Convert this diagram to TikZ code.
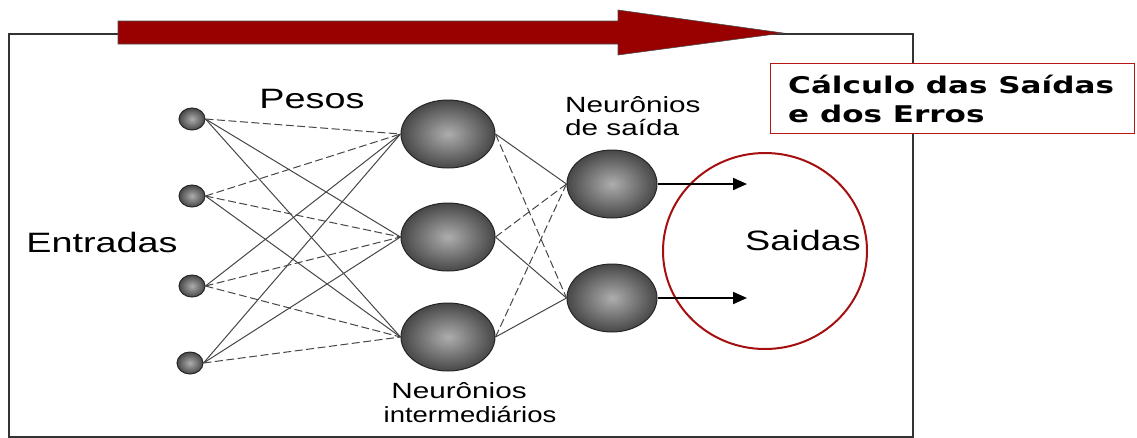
\documentclass[tikz,border=0pt]{standalone}
\usepackage{fontspec}
\setmainfont{Liberation Sans}
\newfontfamily\boxfont{DejaVu Sans}
\usetikzlibrary{shapes.geometric,arrows.meta}
\definecolor{arrowred}{RGB}{153,0,0}
\definecolor{boxred}{RGB}{185,20,20}
\definecolor{ellred}{RGB}{165,15,15}
\definecolor{wire}{RGB}{70,70,70}
\newcommand\wx[1]{\scalebox{1.35}[1]{#1}}
\tikzset{
  neuron/.style={ellipse, draw=black!85, line width=1pt, inner sep=0pt,
    inner color=black!32, outer color=black!72},
  inp/.style={neuron, minimum width=26pt, minimum height=22pt},
  hid/.style={neuron, minimum width=94pt, minimum height=68pt},
  outn/.style={neuron, minimum width=90pt, minimum height=68pt},
  wiresolid/.style={draw=wire, line width=1pt},
  wiredash/.style={draw=wire, line width=1pt, dash pattern=on 8pt off 3.5pt},
  biglbl/.style={anchor=base, inner sep=0pt, font=\fontsize{28}{32}\selectfont},
  smalllbl/.style={anchor=base, inner sep=0pt, font=\fontsize{22}{26}\selectfont},
  boxlbl/.style={anchor=base west, inner sep=0pt, font=\boxfont\bfseries\fontsize{23}{27}\selectfont},
  outarrow/.style={draw=black, line width=2pt, -{Triangle[length=14pt,width=12pt]}},
}
\begin{document}
\begin{tikzpicture}[x=1pt,y=-1pt]
\useasboundingbox (0,0) rectangle (1137,437);
% frame
\draw[black!80, line width=1.8pt] (9,34) rectangle (913,437);
% big red arrow
\draw[fill=arrowred, draw=black!70, line width=0.6pt]
  (118,21) -- (618,21) -- (618,10) -- (783,33) -- (618,55) -- (618,44) -- (118,44) -- cycle;
% box
\node[draw=boxred, fill=white, line width=1.2pt, minimum width=364pt, minimum height=70pt,
      anchor=north west, inner sep=0pt] (calcbox) at (770,63) {};
\node[boxlbl] (calc1) at (788,93) {\wx{Cálculo das Saídas}};
\node[boxlbl] (calc2) at (788,122) {\wx{e dos Erros}};
% neurons
\node[inp] (i1) at (192,119) {};
\node[inp] (i2) at (192,196) {};
\node[inp] (i3) at (192,286) {};
\node[inp] (i4) at (190,363) {};
\node[hid] (h1) at (448,134) {};
\node[hid] (h2) at (448,237) {};
\node[hid] (h3) at (448,337) {};
\node[outn] (o1) at (612,184) {};
\node[outn] (o2) at (612,298) {};
% input -> hidden
\draw[wiredash]  (i1.east) -- (h1.west);
\draw[wiresolid] (i1.east) -- (h2.west);
\draw[wiresolid] (i1.east) -- (h3.west);
\draw[wiredash]  (i2.east) -- (h1.west);
\draw[wiredash]  (i2.east) -- (h2.west);
\draw[wiresolid] (i2.east) -- (h3.west);
\draw[wiresolid] (i3.east) -- (h1.west);
\draw[wiredash]  (i3.east) -- (h2.west);
\draw[wiredash]  (i3.east) -- (h3.west);
\draw[wiresolid] (i4.east) -- (h1.west);
\draw[wiresolid] (i4.east) -- (h2.west);
\draw[wiredash]  (i4.east) -- (h3.west);
% hidden -> output
\draw[wiresolid] (h1.east) -- (o1.west);
\draw[wiredash]  (h1.east) -- (o2.west);
\draw[wiredash]  (h2.east) -- (o1.west);
\draw[wiresolid] (h2.east) -- (o2.west);
\draw[wiredash]  (h3.east) -- (o1.west);
\draw[wiresolid] (h3.east) -- (o2.west);
% outputs ring
\node[ellipse, draw=ellred, line width=2pt, minimum width=204pt, minimum height=196pt,
      inner sep=0pt] (ring) at (765,251) {};
\coordinate (a1) at (747,184);
\coordinate (a2) at (747,298);
\draw[outarrow] (o1.east) -- (a1);
\draw[outarrow] (o2.east) -- (a2);
% labels
\node[biglbl] (entradas) at (102,252) {\wx{Entradas}};
\node[biglbl] (pesos) at (312,108) {\wx{Pesos}};
\node[smalllbl, anchor=base west] (ns1) at (565,112) {\wx{Neurônios}};
\node[smalllbl, anchor=base west] (ns2) at (565,135) {\wx{de saída}};
\node[smalllbl] (ni1) at (459,398) {\wx{Neurônios}};
\node[smalllbl] (ni2) at (470,422) {\scalebox{1.25}[1]{intermediários}};
\node[biglbl] (saidas) at (803,250) {\wx{Saidas}};
\end{tikzpicture}
\end{document}
